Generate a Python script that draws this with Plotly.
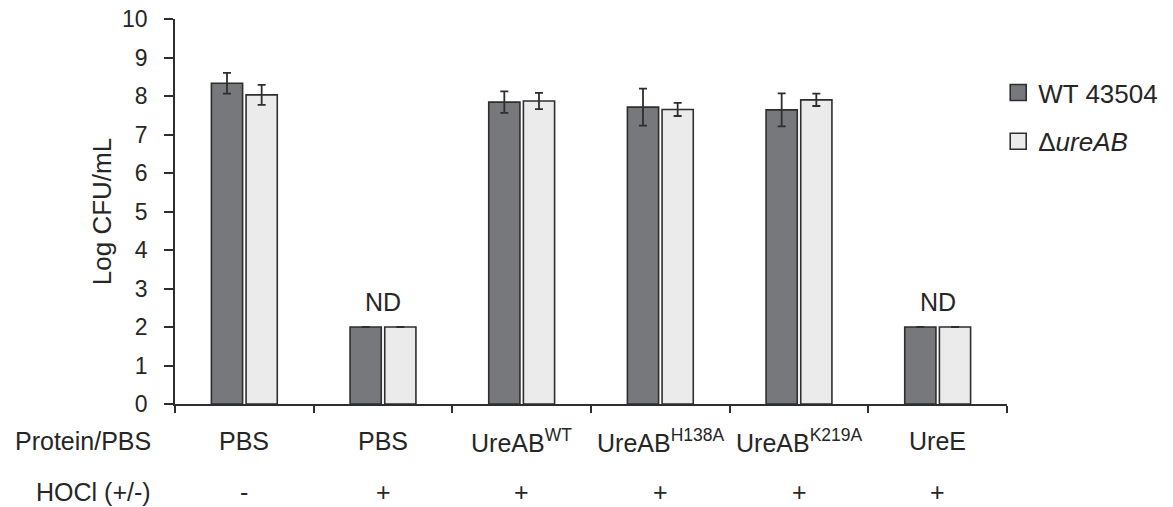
import plotly.graph_objects as go

# ---- data ----
groups = ["PBS-", "PBS+", "UreAB WT", "UreAB H138A", "UreAB K219A", "UreE"]
protein_labels = ["PBS", "PBS", "UreAB<sup>WT</sup>", "UreAB<sup>H138A</sup>",
                  "UreAB<sup>K219A</sup>", "UreE"]
hocl_labels = ["-", "+", "+", "+", "+", "+"]
wt_values = [8.33, 2.0, 7.84, 7.71, 7.64, 2.0]
wt_err = [0.27, None, 0.28, 0.48, 0.43, None]
ure_values = [8.03, 2.0, 7.87, 7.65, 7.90, 2.0]
ure_err = [0.26, None, 0.21, 0.17, 0.16, None]
nd_groups = ["PBS+", "UreE"]
nd_y = 2.65
y_ticks = list(range(0, 11))

FONT = "Liberation Sans, Arial, sans-serif"
TXT = "#262626"
LINE = "#2e2e2e"
DARK = "#77787c"
LIGHT = "#ebebeb"
LBL = 25

fig = go.Figure()
fig.add_trace(go.Bar(
    x=groups, y=wt_values, name="WT 43504",
    marker=dict(color=DARK, line=dict(color=LINE, width=1.6)),
    error_y=dict(type="data", array=wt_err, color=LINE, thickness=1.8, width=4),
    showlegend=False,
))
fig.add_trace(go.Bar(
    x=groups, y=ure_values, name="ΔureAB",
    marker=dict(color=LIGHT, line=dict(color=LINE, width=1.6)),
    error_y=dict(type="data", array=ure_err, color=LINE, thickness=1.8, width=4),
    showlegend=False,
))
# legend entries
fig.add_trace(go.Scatter(
    x=[groups[0]], y=[None], mode="markers", name="WT 43504", legendgroup="a",
    marker=dict(symbol="square", size=22, color=DARK, line=dict(color=LINE, width=1.6)),
))
fig.add_trace(go.Scatter(
    x=[groups[0]], y=[None], mode="markers", name="Δ<i>ureAB</i>", legendgroup="b",
    marker=dict(symbol="square", size=22, color=LIGHT, line=dict(color=LINE, width=1.6)),
))

for g in nd_groups:
    fig.add_annotation(x=g, y=nd_y, text="ND", showarrow=False,
                       font=dict(size=LBL, color=TXT, family=FONT))

for g, p, h in zip(groups, protein_labels, hocl_labels):
    fig.add_annotation(x=g, xref="x", y=0, yref="paper", yanchor="middle",
                       yshift=-37, text=p, showarrow=False,
                       font=dict(size=LBL, color=TXT, family=FONT))
    fig.add_annotation(x=g, xref="x", y=0, yref="paper", yanchor="middle",
                       yshift=-88, text=h, showarrow=False,
                       font=dict(size=LBL, color=TXT, family=FONT))

fig.add_annotation(x=0, xref="paper", xanchor="right", xshift=-22,
                   y=0, yref="paper", yanchor="middle", yshift=-37,
                   text="Protein/PBS", showarrow=False,
                   font=dict(size=LBL, color=TXT, family=FONT))
fig.add_annotation(x=0, xref="paper", xanchor="right", xshift=-22,
                   y=0, yref="paper", yanchor="middle", yshift=-88,
                   text="HOCl (+/-)", showarrow=False,
                   font=dict(size=LBL, color=TXT, family=FONT))

fig.update_layout(
    width=1173, height=507,
    margin=dict(l=175, r=166, t=19, b=103, autoexpand=False),
    paper_bgcolor="white", plot_bgcolor="white",
    barmode="group", bargap=0.5, bargroupgap=0.1,
    font=dict(family=FONT, color=TXT, size=LBL),
    legend=dict(xref="container", x=0.851, xanchor="left", y=0.87, yanchor="top",
                font=dict(size=26, family=FONT, color=TXT),
                tracegroupgap=12, itemsizing="trace",
                bgcolor="rgba(0,0,0,0)"),
)
fig.update_xaxes(
    automargin=False,
    showgrid=False, zeroline=False, showline=True, linecolor=LINE, linewidth=1.6,
    ticks="outside", ticklen=7, tickcolor=LINE, tickwidth=1.6,
    tickson="boundaries", showticklabels=False,
)
fig.update_yaxes(
    automargin=False,
    range=[0, 10], tickvals=y_ticks, showgrid=False, zeroline=False,
    showline=True, linecolor=LINE, linewidth=1.6,
    ticks="outside", ticklen=9, tickcolor=LINE, tickwidth=1.6,
    ticklabelstandoff=12, tickfont=dict(size=23, color=TXT, family=FONT),
    title=dict(text="Log CFU/mL", font=dict(size=26, color=TXT, family=FONT), standoff=3),
)

fig.write_html("out.html", config={"displayModeBar": False},
               post_script="document.body.style.margin='0';")
